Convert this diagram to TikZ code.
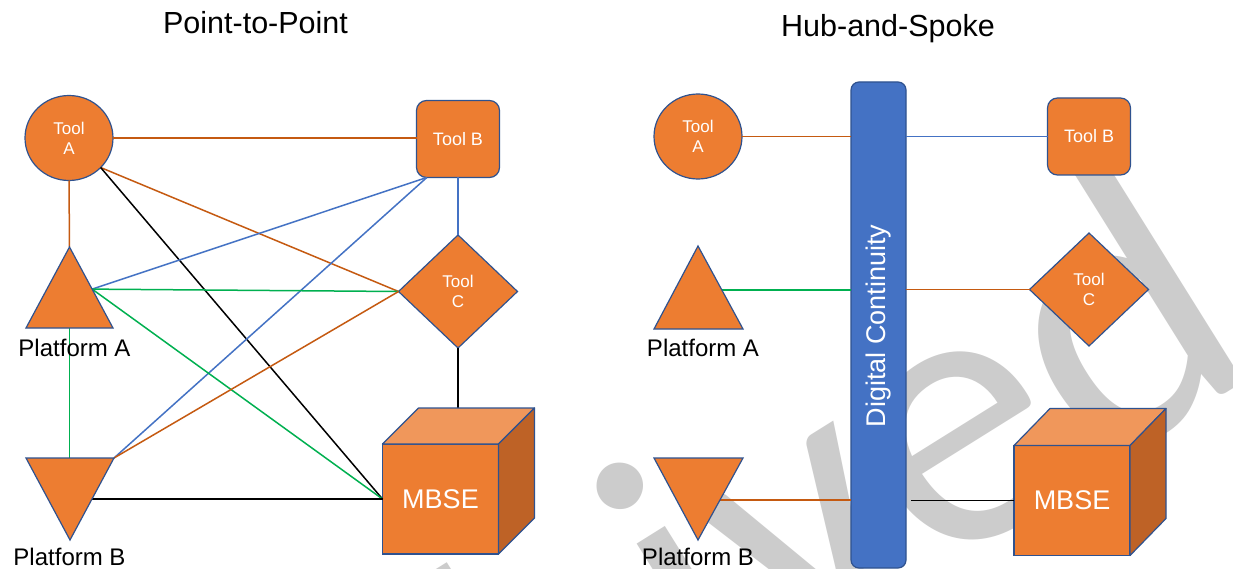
\documentclass[tikz,border=0pt]{standalone}
\usepackage{fontspec}
\setmainfont{Liberation Sans}
\newfontfamily\wmfont{Carlito}
\usetikzlibrary{shapes.geometric,calc}
\definecolor{shapeorange}{HTML}{ED7D31}
\definecolor{shapeedge}{HTML}{2F528F}
\definecolor{linkorange}{HTML}{C55A11}
\definecolor{linkblue}{HTML}{4472C4}
\definecolor{linkgreen}{HTML}{00B050}
\definecolor{cubetop}{HTML}{F0975B}
\definecolor{cubeside}{HTML}{BE6226}
\definecolor{wmgray}{HTML}{CCCCCC}
\begin{document}
\begin{tikzpicture}[x=1pt,y=-1pt,
  shapebox/.style={fill=shapeorange, draw=shapeedge, line width=1.2pt, outer sep=0pt, inner sep=0pt},
  tooltext/.style={text=white, font=\fontsize{17}{20}\selectfont, align=center},
  toolcircle/.style={shapebox, tooltext, ellipse, minimum width=88pt, minimum height=85pt},
  toolbox/.style={shapebox, tooltext, rectangle, rounded corners=10pt, minimum width=83pt, minimum height=77pt, font=\fontsize{18}{21}\selectfont},
  tooldiamond/.style={shapebox, tooltext, diamond, minimum width=119pt, minimum height=113pt},
  cubefront/.style={shapebox, rectangle, minimum width=116pt, minimum height=110pt, text=white, font=\fontsize{27}{32}\selectfont},
  cubetopface/.style={fill=cubetop, draw=shapeedge, line width=1.2pt, line join=round},
  cubesideface/.style={fill=cubeside, draw=shapeedge, line width=1.2pt, line join=round},
  triface/.style={fill=shapeorange, draw=shapeedge, line width=1.2pt},
  platlabel/.style={font=\fontsize{24}{28}\selectfont, anchor=base, inner sep=0pt},
  paneltitle/.style={font=\fontsize{30.5}{36}\selectfont, anchor=base, inner sep=0pt},
  busbar/.style={fill=linkblue, draw=shapeedge, line width=1.2pt, rounded corners=8pt, minimum width=55pt, minimum height=486pt, outer sep=0pt, inner sep=0pt},
  bustext/.style={text=white, rotate=90, font=\fontsize{27}{32}\selectfont, inner sep=0pt},
  link/.style={line width=1.5pt},
  olink/.style={link, draw=linkorange},
  blink/.style={link, draw=linkblue},
  glink/.style={link, draw=linkgreen},
  klink/.style={link, draw=black},
  watermark/.style={font=\wmfont\fontsize{387}{400}\selectfont, text=wmgray, rotate=32, anchor=base west, inner sep=0pt}
]
\path[use as bounding box] (0,0) rectangle (1233,569);
\clip (0,0) rectangle (1233,569);
\fill[white] (0,0) rectangle (1233,569);

% watermark
\node[watermark] (wm) at (99.8,1097.1) {Archived};

% titles
\node[paneltitle] (t1) at (255.5,34) {Point-to-Point};
\node[paneltitle] (t2) at (888,37) {Hub-and-Spoke};

% ---------------- left panel ----------------
\coordinate (pA-t) at (69.5,247);
\coordinate (pA-bl) at (26,328);
\coordinate (pA-br) at (113,328);
\coordinate (pA-b) at (69.5,328);
\coordinate (pA-r) at ($(pA-t)!0.52!(pA-br)$);
\coordinate (pB-tl) at (26,458);
\coordinate (pB-tr) at (114,458);
\coordinate (pB-b) at (70,540);
\coordinate (pB-r) at ($(pB-tr)!0.5!(pB-b)$);

\node[toolcircle] (tA) at (69,138) {Tool\\A};
\node[toolbox] (tB) at (458,139) {Tool B};
\node[tooldiamond] (tC) at (458,291.5) {Tool\\C};
\node[cubefront] (m1) at (440.5,499) {MBSE};
\coordinate (m1-back) at ($(m1.north)+(36,-36)$);

\draw[olink] (tA.east) -- (tA.east -| tB.west);
\draw[olink] (tA.south) -- (pA-t);
\draw[olink] (tA.-43) -- (tC.west);
\draw[klink] (tA.-43) -- (m1.west);
\draw[blink] (tB.-129) -- (pA-r);
\draw[blink] (tB.-129) -- (pB-tr);
\draw[blink] (tB.south) -- (tC.north);
\draw[glink] (pA-r) -- (tC.west);
\draw[glink] (pA-r) -- (m1.west);
\draw[glink] (pA-b) -- (pA-b |- pB-tl);
\draw[olink] (tC.west) -- (pB-tr);
\draw[klink] (tC.south) -- (tC.south |- m1-back);
\draw[klink] (pB-r) -- (m1.west);

\draw[triface] (pA-t) -- (pA-br) -- (pA-bl) -- cycle;
\draw[triface] (pB-tl) -- (pB-tr) -- (pB-b) -- cycle;
\draw[cubetopface] (m1.north west) -- ++(36,-36) -- ($(m1.north east)+(36,-36)$) -- (m1.north east) -- cycle;
\draw[cubesideface] (m1.north east) -- ++(36,-36) -- ($(m1.south east)+(36,-36)$) -- (m1.south east) -- cycle;

\node[platlabel] (lpA) at (74.5,356) {Platform A};
\node[platlabel] (lpB) at (69.5,565) {Platform B};

% ---------------- right panel ----------------
\coordinate (pA2-t) at (698,246);
\coordinate (pA2-bl) at (654,329);
\coordinate (pA2-br) at (743,329);
\coordinate (pA2-r) at ($(pA2-t)!0.53!(pA2-br)$);
\coordinate (pB2-tl) at (654,458);
\coordinate (pB2-tr) at (743,458);
\coordinate (pB2-b) at (698,540);
\coordinate (pB2-r) at ($(pB2-tr)!0.51!(pB2-b)$);

\node[busbar] (bar) at (878.5,325) {};
\node[bustext] (bartext) at (878.5,326) {Digital Continuity};
\node[toolcircle] (tA2) at (698,136.5) {Tool\\A};
\node[toolbox] (tB2) at (1089,136.5) {Tool B};
\node[tooldiamond] (tC2) at (1089,289.5) {Tool\\C};
\node[cubefront] (m2) at (1072,500.5) {MBSE};

\draw[olink] (tA2.east) -- (tA2.east -| bar.west);
\draw[blink] (bar.east |- tB2.west) -- (tB2.west);
\draw[glink] (pA2-r) -- (pA2-r -| bar.west);
\draw[olink] (bar.east |- tC2.west) -- (tC2.west);
\draw[olink] (pB2-r) -- (pB2-r -| bar.west);
\draw[klink] (m2.west) -- ($(m2.west -| bar.east)+(5,0)$);

\draw[triface] (pA2-t) -- (pA2-br) -- (pA2-bl) -- cycle;
\draw[triface] (pB2-tl) -- (pB2-tr) -- (pB2-b) -- cycle;
\draw[cubetopface] (m2.north west) -- ++(36,-37) -- ($(m2.north east)+(36,-37)$) -- (m2.north east) -- cycle;
\draw[cubesideface] (m2.north east) -- ++(36,-37) -- ($(m2.south east)+(36,-37)$) -- (m2.south east) -- cycle;

\node[platlabel] (lpA2) at (703,356.5) {Platform A};
\node[platlabel] (lpB2) at (698,565) {Platform B};
\end{tikzpicture}
\end{document}
